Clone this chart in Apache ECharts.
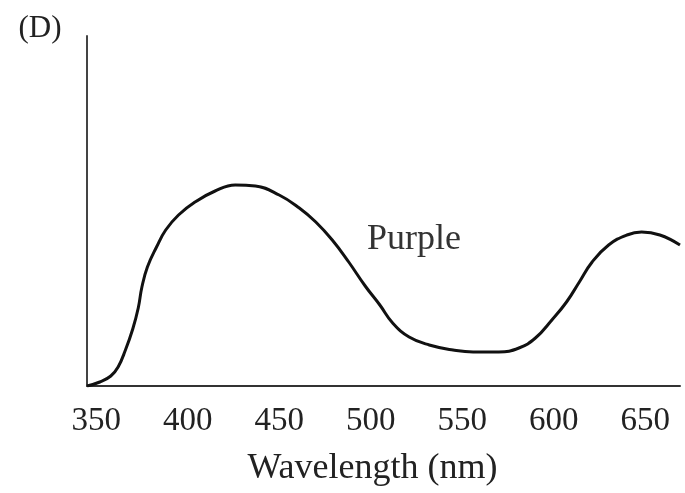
<!DOCTYPE html>
<html>
<head>
<meta charset="utf-8">
<script src="https://cdn.jsdelivr.net/npm/echarts@6/dist/echarts.min.js"></script>
<style>
html,body{margin:0;padding:0;background:#fff;}
#chart{width:685px;height:493px;}
</style>
</head>
<body>
<div id="chart"></div>
<script>
// Data (absorbance in arbitrary units)
var wavelengths = [345, 352, 358, 362, 366, 370, 373, 375, 378, 383, 388, 395, 404, 415, 426, 437, 450, 461, 470, 479, 488, 497, 505, 512, 521, 532, 545, 556, 570, 581, 590, 599, 607, 614, 621, 630, 640, 648, 658, 669];
var absorbance  = [0, 4, 10, 19, 36, 57, 78, 99, 119, 139, 156, 171, 184, 195, 201, 200, 191, 178, 164, 146, 124, 100, 81, 63, 49, 41, 36, 34, 34, 38, 48, 66, 84, 104, 124, 141, 151, 154, 151, 141];
var tickValues = [350, 400, 450, 500, 550, 600, 650];
var xAxisName = 'Wavelength (nm)';
var panelLabel = '(D)';
var seriesLabel = 'Purple';

var points = wavelengths.map(function (w, i) { return [w, absorbance[i]]; });
var serif = '"Liberation Serif", "DejaVu Serif", serif';

var chart = echarts.init(document.getElementById('chart'), null, {renderer: 'canvas'});
chart.setOption({
  backgroundColor: '#ffffff',
  animation: false,
  grid: {left: 87, right: 5, top: 36, bottom: 107, containLabel: false},
  xAxis: {
    type: 'value',
    min: 345,
    max: 669,
    name: xAxisName,
    nameLocation: 'middle',
    nameGap: 65,
    nameTextStyle: {fontFamily: serif, fontSize: 36, color: '#222', padding: [0, 22, 0, 0]},
    axisLine: {show: true, lineStyle: {color: '#333', width: 2}},
    axisTick: {show: false},
    splitLine: {show: false},
    axisLabel: {
      customValues: tickValues,
      margin: 19,
      fontFamily: serif,
      fontSize: 33,
      color: '#222'
    }
  },
  yAxis: {
    type: 'value',
    min: 0,
    max: 350,
    axisLine: {show: true, lineStyle: {color: '#444', width: 2}},
    axisTick: {show: false},
    axisLabel: {show: false},
    splitLine: {show: false}
  },
  series: [{
    type: 'line',
    name: seriesLabel,
    data: points,
    smooth: 0.45,
    showSymbol: false,
    lineStyle: {color: '#111', width: 3}
  }],
  graphic: [
    {type: 'text', x: 40, y: 29, style: {text: panelLabel, font: '31px ' + serif, fill: '#222', align: 'center', verticalAlign: 'middle'}},
    {type: 'text', x: 367, y: 240, style: {text: seriesLabel, font: '36px ' + serif, fill: '#333', verticalAlign: 'middle', align: 'left'}}
  ]
});
</script>
</body>
</html>
